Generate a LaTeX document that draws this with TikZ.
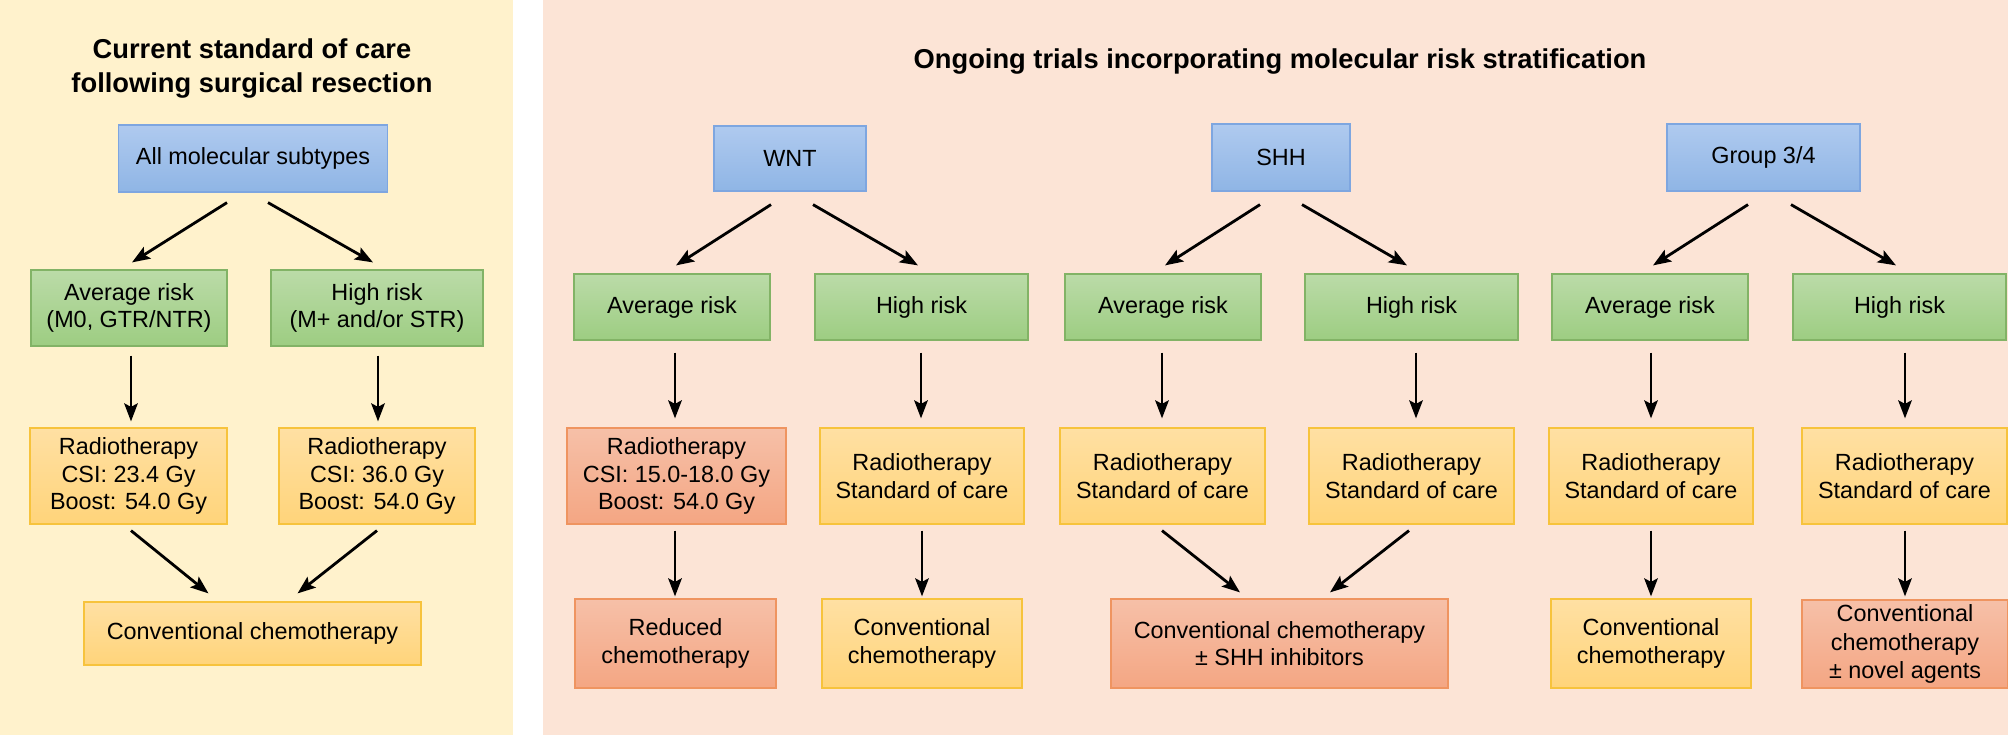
\documentclass[tikz,border=0pt]{standalone}
\usepackage{fontspec}
\setmainfont{Liberation Sans}
\usetikzlibrary{arrows.meta}
\definecolor{leftbg}{HTML}{FFF2CC}
\definecolor{rightbg}{HTML}{FCE4D6}
\definecolor{blueT}{HTML}{AFCAEF}
\definecolor{blueB}{HTML}{8FB5E5}
\definecolor{blueS}{HTML}{7EA6E0}
\definecolor{greenT}{HTML}{BBDBA8}
\definecolor{greenB}{HTML}{9DCD82}
\definecolor{greenS}{HTML}{82B366}
\definecolor{yelT}{HTML}{FFE0A3}
\definecolor{yelB}{HTML}{FFD47A}
\definecolor{yelS}{HTML}{F7C33C}
\definecolor{redT}{HTML}{F6C0A8}
\definecolor{redB}{HTML}{F4A683}
\definecolor{redS}{HTML}{EF9460}
\tikzset{
  box/.style={draw, line width=1.2pt, inner sep=0pt, align=center,
    font=\fontsize{23.4}{27.5}\selectfont},
  bluebox/.style={box, draw=blueS, top color=blueT, bottom color=blueB},
  greenbox/.style={box, draw=greenS, top color=greenT, bottom color=greenB},
  yelbox/.style={box, draw=yelS, top color=yelT, bottom color=yelB},
  redbox/.style={box, draw=redS, top color=redT, bottom color=redB},
  arr/.style={line width=2.8pt, -{Stealth[length=18pt,width=13.5pt,inset=3.5pt]}},
  ttl/.style={font=\fontsize{27.3}{34}\selectfont\bfseries, align=center, inner sep=0pt},
  sz/.style 2 args={minimum width=#1pt, minimum height=#2pt}
}
\begin{document}
\begin{tikzpicture}[x=1pt,y=-1pt]
\useasboundingbox (0,0) rectangle (2008,735);
\fill[white] (0,0) rectangle (2008,735);
\fill[leftbg] (0,0) rectangle (513,735);
\fill[rightbg] (543,0) rectangle (2008,735);

% ---------------- left panel ----------------
\node[ttl] (t1) at (252,68.5) {Current standard of care\\following surgical resection};
\node[bluebox, sz={269}{67}] (all) at (253,158.5) {All molecular subtypes};
\node[greenbox, sz={196}{76}] (avgL) at (129,308) {Average risk\\(M0, GTR/NTR)};
\node[greenbox, sz={212}{76}] (highL) at (377,308) {High risk\\(M+ and/or STR)};
\node[yelbox, sz={197}{96}] (rtL) at (128.5,476) {Radiotherapy\\CSI: 23.4 Gy\\Boost: 54.0 Gy};
\node[yelbox, sz={196}{96}] (rtR) at (377,476) {Radiotherapy\\CSI: 36.0 Gy\\Boost: 54.0 Gy};
\node[yelbox, sz={337}{63}] (convL) at (252.5,633.5) {Conventional chemotherapy};

\draw[arr] ([xshift=-26pt,yshift=-10pt]all.south) -- ([xshift=3pt,yshift=7pt]avgL.north);
\draw[arr] ([xshift=15pt,yshift=-10pt]all.south) -- ([xshift=-4pt,yshift=7pt]highL.north);
\draw[arr] ([xshift=2pt,yshift=-9pt]avgL.south) -- ([xshift=2.5pt,yshift=6pt]rtL.north);
\draw[arr] ([xshift=1pt,yshift=-9pt]highL.south) -- ([xshift=1pt,yshift=6pt]rtR.north);
\draw[arr] ([xshift=2.5pt,yshift=-6pt]rtL.south) -- ([xshift=-44pt,yshift=8pt]convL.north);
\draw[arr] ([yshift=-6pt]rtR.south) -- ([xshift=45pt,yshift=8pt]convL.north);

% ---------------- right panel ----------------
\node[ttl] (t2) at (1280,61.5) {Ongoing trials incorporating molecular risk stratification};

% WNT
\node[bluebox, sz={152}{65}] (wnt) at (790,158.5) {WNT};
\node[greenbox, sz={196}{66}] (avgW) at (672,307) {Average risk};
\node[greenbox, sz={213}{66}] (highW) at (921.5,307) {High risk};
\node[redbox, sz={219}{96}] (rtW1) at (676.5,476) {Radiotherapy\\CSI: 15.0-18.0 Gy\\Boost: 54.0 Gy};
\node[yelbox, sz={204}{96}] (rtW2) at (922,476) {Radiotherapy\\Standard of care};
\node[redbox, sz={201}{89}] (redW) at (675.5,643.5) {Reduced\\chemotherapy};
\node[yelbox, sz={200}{89}] (convW) at (922,643.5) {Conventional\\chemotherapy};

\draw[arr] ([xshift=-19pt,yshift=-13pt]wnt.south) -- ([xshift=4pt,yshift=8pt]avgW.north);
\draw[arr] ([xshift=23pt,yshift=-13pt]wnt.south) -- ([xshift=-3.5pt,yshift=8pt]highW.north);
\draw[arr] ([xshift=3pt,yshift=-12pt]avgW.south) -- ([xshift=-1.5pt,yshift=9pt]rtW1.north);
\draw[arr] ([xshift=-0.5pt,yshift=-12pt]highW.south) -- ([xshift=-1pt,yshift=9pt]rtW2.north);
\draw[arr] ([xshift=-1.5pt,yshift=-6pt]rtW1.south) -- ([xshift=-0.5pt,yshift=2pt]redW.north);
\draw[arr] ([yshift=-6pt]rtW2.south) -- ([yshift=2pt]convW.north);

% SHH
\node[bluebox, sz={138}{67}] (shh) at (1281,157.5) {SHH};
\node[greenbox, sz={196}{66}] (avgS) at (1163,307) {Average risk};
\node[greenbox, sz={213}{66}] (highS) at (1411.5,307) {High risk};
\node[yelbox, sz={205}{96}] (rtS1) at (1162.5,476) {Radiotherapy\\Standard of care};
\node[yelbox, sz={205}{96}] (rtS2) at (1411.5,476) {Radiotherapy\\Standard of care};
\node[redbox, sz={337}{89}] (convS) at (1279.5,643.5) {Conventional chemotherapy\\± SHH inhibitors};

\draw[arr] ([xshift=-21pt,yshift=-13pt]shh.south) -- ([xshift=2pt,yshift=8pt]avgS.north);
\draw[arr] ([xshift=21pt,yshift=-13pt]shh.south) -- ([xshift=-4.5pt,yshift=8pt]highS.north);
\draw[arr] ([xshift=-1pt,yshift=-12pt]avgS.south) -- ([xshift=-0.5pt,yshift=9pt]rtS1.north);
\draw[arr] ([xshift=4.5pt,yshift=-12pt]highS.south) -- ([xshift=4.5pt,yshift=9pt]rtS2.north);
\draw[arr] ([xshift=-0.5pt,yshift=-6pt]rtS1.south) -- ([xshift=-39.5pt,yshift=6pt]convS.north);
\draw[arr] ([xshift=-2.5pt,yshift=-6pt]rtS2.south) -- ([xshift=50.5pt,yshift=6pt]convS.north);

% Group 3/4
\node[bluebox, sz={193}{67}] (g34) at (1763.5,157.5) {Group 3/4};
\node[greenbox, sz={196}{66}] (avgG) at (1650,307) {Average risk};
\node[greenbox, sz={213}{66}] (highG) at (1899.5,307) {High risk};
\node[yelbox, sz={204}{96}] (rtG1) at (1651,476) {Radiotherapy\\Standard of care};
\node[yelbox, sz={205}{96}] (rtG2) at (1904.5,476) {Radiotherapy\\Standard of care};
\node[yelbox, sz={200}{89}] (convG) at (1651,643.5) {Conventional\\chemotherapy};
\node[redbox, sz={206}{88}, font=\fontsize{23.4}{28.5}\selectfont] (novG) at (1905,644) {Conventional\\chemotherapy\\± novel agents};

\draw[arr] ([xshift=-15.5pt,yshift=-13pt]g34.south) -- ([xshift=3pt,yshift=8pt]avgG.north);
\draw[arr] ([xshift=27.5pt,yshift=-13pt]g34.south) -- ([xshift=-3.5pt,yshift=8pt]highG.north);
\draw[arr] ([xshift=1pt,yshift=-12pt]avgG.south) -- ([yshift=9pt]rtG1.north);
\draw[arr] ([xshift=5.5pt,yshift=-12pt]highG.south) -- ([xshift=0.5pt,yshift=9pt]rtG2.north);
\draw[arr] ([yshift=-6pt]rtG1.south) -- ([yshift=2pt]convG.north);
\draw[arr] ([xshift=0.5pt,yshift=-6pt]rtG2.south) -- ([yshift=3pt]novG.north);
\end{tikzpicture}
\end{document}
